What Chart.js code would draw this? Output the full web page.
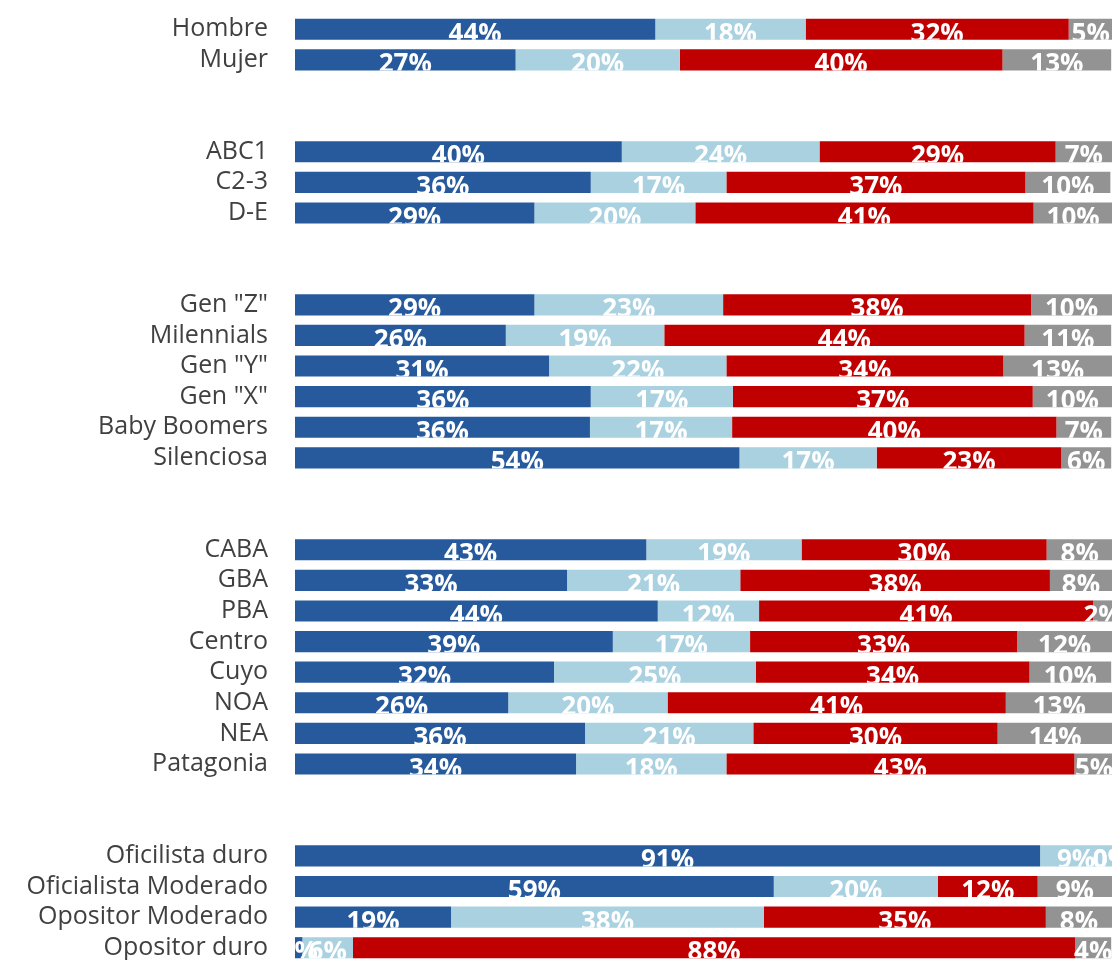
<!DOCTYPE html>
<html>
<head>
<meta charset="utf-8">
<script src="https://cdn.jsdelivr.net/npm/chart.js@4.4.1/dist/chart.umd.min.js"></script>
<style>
  html, body { margin: 0; padding: 0; background: #fff; overflow: hidden; }
  #wrap { width: 1112px; height: 972px; position: relative; }
</style>
</head>
<body>
<div id="wrap"><canvas id="chart"></canvas></div>
<script>
// rows, blank strings are the gaps between groups
const categories = [
  'Hombre', 'Mujer', '', '',
  'ABC1', 'C2-3', 'D-E', '', '',
  'Gen "Z"', 'Milennials', 'Gen "Y"', 'Gen "X"', 'Baby Boomers', 'Silenciosa', '', '',
  'CABA', 'GBA', 'PBA', 'Centro', 'Cuyo', 'NOA', 'NEA', 'Patagonia', '', '',
  'Oficilista duro', 'Oficialista Moderado', 'Opositor Moderado', 'Opositor duro'
];

const darkBlue = [
  44.1, 27.0, null, null,
  40.0, 36.2, 29.3, null, null,
  29.3, 25.8, 31.1, 36.2, 36.1, 54.4, null, null,
  43.0, 33.3, 44.4, 38.9, 31.7, 26.1, 35.5, 34.4, null, null,
  91.2, 58.6, 19.1, 0.9
];
const lightBlue = [
  18.4, 20.1, null, null,
  24.2, 16.6, 19.7, null, null,
  23.1, 19.4, 21.7, 17.4, 17.4, 16.8, null, null,
  19.0, 21.2, 12.4, 16.8, 24.7, 19.5, 20.6, 18.4, null, null,
  8.8, 20.1, 38.3, 6.2
];
const red = [
  32.2, 39.5, null, null,
  28.9, 36.6, 41.4, null, null,
  37.7, 44.1, 33.9, 36.7, 39.7, 22.6, null, null,
  30.0, 37.9, 40.9, 32.7, 33.5, 41.4, 29.9, 42.6, null, null,
  0, 12.2, 34.5, 88.4
];
const gray = [
  5.4, 13.3, null, null,
  6.9, 10.4, 9.7, null, null,
  9.9, 10.6, 13.3, 9.7, 6.7, 6.1, null, null,
  8.1, 7.6, 2.3, 11.6, 10.0, 13.1, 14.1, 4.8, null, null,
  0, 9.1, 8.1, 4.4
];

const colors = ['#265a9c', '#a9d1e0', '#c00000', '#939393'];

// white labels, clipped to the bar band like the original
const barLabels = {
  id: 'barLabels',
  afterDatasetsDraw(chart) {
    const ctx = chart.ctx;
    const area = chart.chartArea;
    ctx.save();
    ctx.font = 'bold 26px "Open Sans"';
    ctx.fillStyle = '#ffffff';
    ctx.textAlign = 'center';
    ctx.textBaseline = 'alphabetic';
    chart.data.datasets.forEach((ds, i) => {
      chart.getDatasetMeta(i).data.forEach((bar, j) => {
        const v = ds.data[j];
        if (v === null || v === undefined) return;
        const h = bar.height;
        const top = bar.y - h / 2;
        ctx.save();
        ctx.beginPath();
        ctx.rect(area.left, top, area.right - area.left, h);
        ctx.clip();
        ctx.fillText(Math.round(v) + '%', (bar.base + bar.x) / 2, top + h + 2);
        ctx.restore();
      });
    });
    ctx.restore();
  }
};

new Chart(document.getElementById('chart'), {
  type: 'bar',
  data: {
    labels: categories,
    datasets: [
      { data: darkBlue, backgroundColor: colors[0] },
      { data: lightBlue, backgroundColor: colors[1] },
      { data: red, backgroundColor: colors[2] },
      { data: gray, backgroundColor: colors[3] }
    ]
  },
  options: {
    indexAxis: 'y',
    responsive: true,
    maintainAspectRatio: false,
    animation: false,
    datasets: {
      bar: { barPercentage: 0.69, categoryPercentage: 1, borderWidth: 0 }
    },
    layout: { padding: { top: 14, bottom: 9, left: 0, right: 0 } },
    plugins: { legend: { display: false }, tooltip: { enabled: false } },
    scales: {
      x: { stacked: true, min: 0, max: 100, display: false },
      y: {
        stacked: true,
        grid: { display: false },
        border: { display: false },
        afterFit: (scale) => {
          scale.width = 295;
          scale.paddingTop = 0;
          scale.paddingBottom = 0;
        },
        ticks: {
          autoSkip: false,
          padding: 19,
          color: '#404040',
          font: { family: '"Open Sans"', size: 25 }
        }
      }
    }
  },
  plugins: [barLabels]
});
</script>
</body>
</html>
